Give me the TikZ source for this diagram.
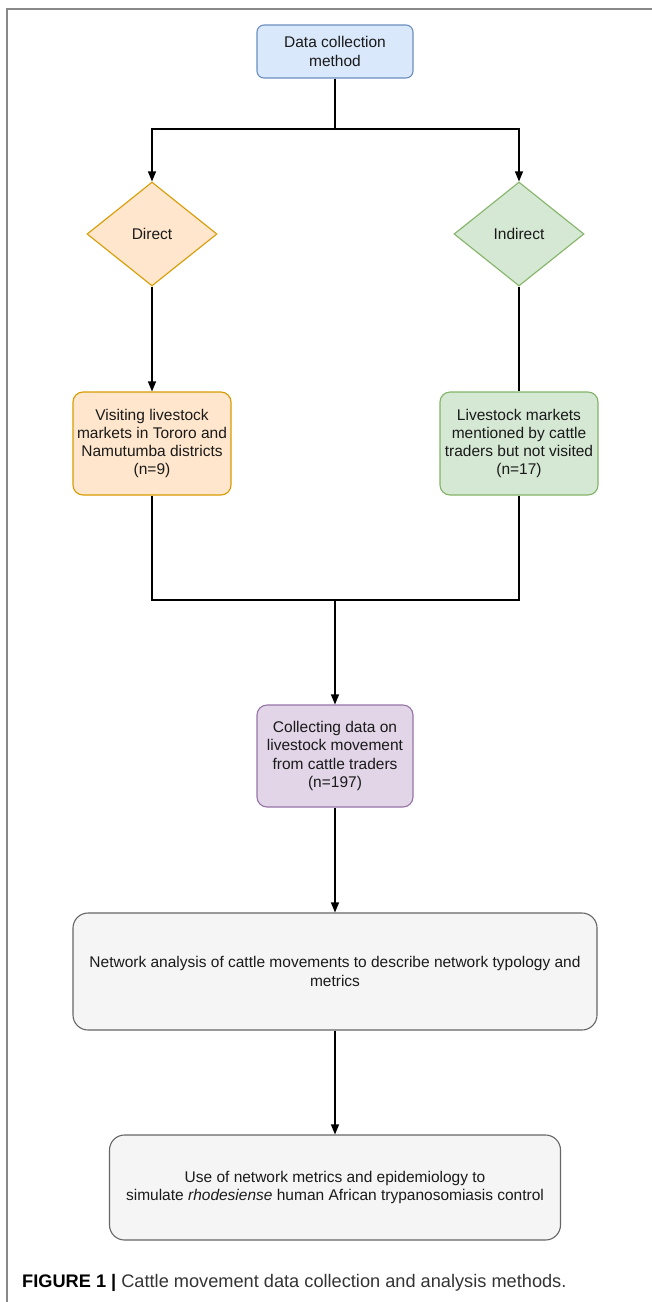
\documentclass[tikz,border=0pt]{standalone}
\usepackage{fontspec}
\setmainfont{Liberation Sans}
\usetikzlibrary{shapes.geometric,arrows.meta}
\definecolor{blueF}{HTML}{DAE8FC}\definecolor{blueD}{HTML}{6C8EBF}
\definecolor{orangeF}{HTML}{FFE6CC}\definecolor{orangeD}{HTML}{D79B00}
\definecolor{greenF}{HTML}{D5E8D4}\definecolor{greenD}{HTML}{82B366}
\definecolor{purpleF}{HTML}{E1D5E7}\definecolor{purpleD}{HTML}{9673A6}
\definecolor{grayF}{HTML}{F5F5F5}\definecolor{grayD}{HTML}{666666}
\definecolor{txt}{HTML}{1A1A1A}
\definecolor{captxt}{HTML}{333333}
\definecolor{frame}{HTML}{888888}
\begin{document}
\begin{tikzpicture}[x=1pt,y=-1pt,
  box/.style={draw, rounded corners=10pt, line width=1.1pt, align=center, inner sep=0pt,
    font=\fontsize{15.5}{18.3}\selectfont, text=txt},
  dia/.style={diamond, draw, line width=1.1pt, inner sep=0pt, align=center,
    font=\fontsize{15.5}{18.3}\selectfont, text=txt},
  arr/.style={line width=1.2pt, -{Triangle[length=10pt,width=8pt]}},
  ln/.style={line width=1.2pt}]
\useasboundingbox (0,0) rectangle (652,1302);
\draw[line width=1.3pt, frame] (7,1302) -- (7,9) -- (652,9);

\node[box, rounded corners=7pt, fill=blueF, draw=blueD, minimum width=156pt, minimum height=53pt] (top) at (335,51.5) {Data collection\\method};
\node[dia, fill=orangeF, draw=orangeD, minimum width=130pt, minimum height=104pt] (direct) at (152,234) {Direct};
\node[dia, fill=greenF, draw=greenD, minimum width=130pt, minimum height=104pt] (indirect) at (519,234) {Indirect};
\node[box, fill=orangeF, draw=orangeD, minimum width=158pt, minimum height=103pt] (visit) at (152,443.5) {Visiting livestock\\markets in Tororo and\\Namutumba districts\\(n=9)};
\node[box, fill=greenF, draw=greenD, minimum width=158pt, minimum height=103pt] (mention) at (519,443.5) {Livestock markets\\mentioned by cattle\\traders but not visited\\(n=17)};
\node[box, fill=purpleF, draw=purpleD, minimum width=156pt, minimum height=102pt] (collect) at (335,756) {Collecting data on\\livestock movement\\from cattle traders\\(n=197)};
\node[box, rounded corners=15pt, fill=grayF, draw=grayD, minimum width=524pt, minimum height=117pt] (net) at (335,971.5) {Network analysis of cattle movements to describe network typology and\\metrics};
\node[box, rounded corners=15pt, fill=grayF, draw=grayD, minimum width=451pt, minimum height=105pt] (use) at (335,1187.5) {Use of network metrics and epidemiology to\\simulate \textit{rhodesiense} human African trypanosomiasis control};

\coordinate (split) at (335,129);
\coordinate (merge) at (335,600);
\draw[ln] (top.south) -- (split);
\draw[arr] (split) -| (direct.north);
\draw[arr] (split) -| (indirect.north);
\draw[arr] (direct.south) -- (visit.north);
\draw[ln] (indirect.south) -- (mention.north);
\draw[ln] (visit.south) |- (merge);
\draw[ln] (mention.south) |- (merge);
\draw[arr] (merge) -- (collect.north);
\draw[arr] (collect.south) -- (net.north);
\draw[arr] (net.south) -- (use.north);

\node[anchor=base west, inner sep=0pt, text=captxt] (cap) at (22,1287) {\fontsize{18.2}{21}\selectfont\textcolor{black}{\textbf{FIGURE 1 |}} Cattle movement data collection and analysis methods.};
\end{tikzpicture}
\end{document}
